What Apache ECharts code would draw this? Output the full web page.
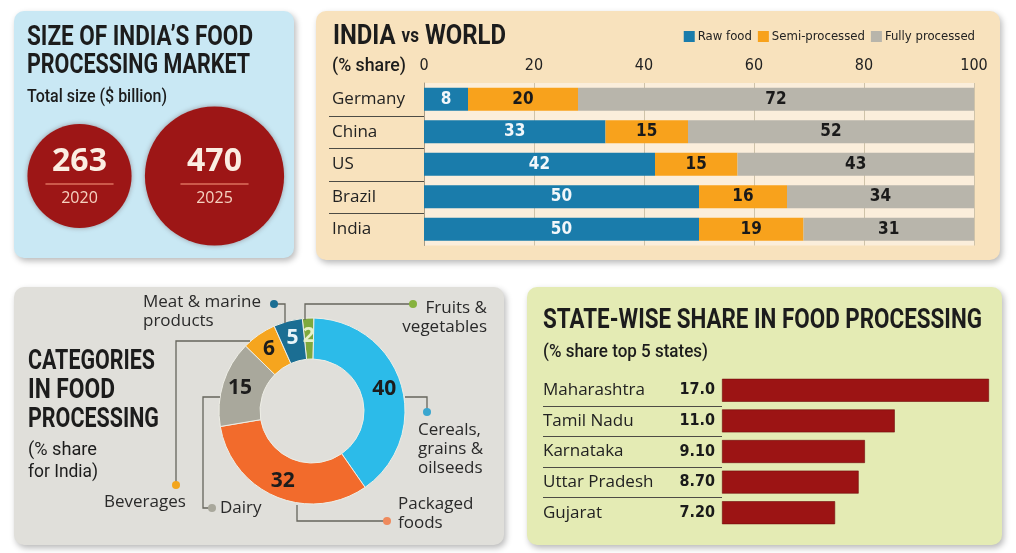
<!DOCTYPE html>
<html>
<head>
<meta charset="utf-8">
<script src="https://cdn.jsdelivr.net/npm/echarts@6/dist/echarts.min.js"></script>
<style>
html,body{margin:0;padding:0;background:#ffffff;}
#chart{width:1016px;height:553px;}
</style>
</head>
<body>
<div id="chart"></div>
<script>
// ---------- DATA ----------
const marketYears = ['2020', '2025'];
const marketSize = [263, 470];

const countries = ['Germany', 'China', 'US', 'Brazil', 'India'];
const rawFood = [8, 33, 42, 50, 50];
const semiProcessed = [20, 15, 15, 16, 19];
const fullyProcessed = [72, 52, 43, 34, 31];
const shareSeriesNames = ['Raw food', 'Semi-processed', 'Fully processed'];

const categoryNames = ['Fruits & vegetables', 'Cereals, grains & oilseeds', 'Packaged foods', 'Dairy', 'Beverages', 'Meat & marine products'];
const categoryLabels = ['Fruits &\nvegetables', 'Cereals,\ngrains &\noilseeds', 'Packaged\nfoods', 'Dairy', 'Beverages', 'Meat & marine\nproducts'];
const categoryShares = [2, 40, 32, 15, 6, 5];

const states = ['Maharashtra', 'Tamil Nadu', 'Karnataka', 'Uttar Pradesh', 'Gujarat'];
const stateShares = [17.0, 11.0, 9.10, 8.70, 7.20];
const stateShareLabels = ['17.0', '11.0', '9.10', '8.70', '7.20'];

// ---------- STYLE ----------
const COND = '"DejaVu Sans Condensed", "DejaVu Sans", sans-serif';
const ROBO = 'Roboto, "Liberation Sans", sans-serif';
const SANS = '"Open Sans", "Noto Sans", sans-serif';
const INK = '#1c1c1c';
const donutColors = ['#7ea93d', '#2cbbe9', '#f26b2c', '#a9a89c', '#f6a51e', '#1b6e93'];
const donutLabelColors = ['#e6f0c8', INK, INK, INK, INK, '#e8f4f8'];
const dotColors = ['#86b23e', '#3aa6cf', '#ef8a5c', '#a9a89c', '#f3a51c', '#1b6e93'];

const chart = echarts.init(document.getElementById('chart'), null, {renderer: 'canvas'});

const mctx = document.createElement('canvas').getContext('2d');
function measure(parts) {
  let w = 0;
  parts.forEach(([t, f]) => { mctx.font = f; w += mctx.measureText(t).width; });
  return w;
}
function panel(x, y, w, h, fill) {
  return {type: 'rect', z: -10, shape: {x, y, width: w, height: h, r: 10},
    style: {fill, shadowBlur: 6, shadowColor: 'rgba(0,0,0,0.28)', shadowOffsetX: 2, shadowOffsetY: 3}};
}
function txt(x, y, text, font, opts) {
  return Object.assign({type: 'text', z: 5, x, y},
    {style: Object.assign({text, font, fill: INK, textAlign: 'left', textVerticalAlign: 'middle'}, opts || {})});
}
// text squeezed horizontally to a given width (condensed look)
function fit(x, y, text, font, width) {
  const el = txt(x, y, text, font);
  el.scaleX = width / measure([[text, font]]);
  return el;
}
const TITLE = 'bold 28px ' + ROBO;
const TITLE2 = 'bold 27px ' + ROBO;
const SUB = '500 18px ' + ROBO;
const LBL = '17px ' + SANS;

// leader lines for donut (annotation layout)
const leaderPts = [
  [[413, 304], [305, 304], [305, 320]],
  [[427, 412], [427, 397], [405, 397]],
  [[387, 521], [297, 521], [297, 505]],
  [[212, 508], [203, 508], [203, 397], [220, 397]],
  [[176, 485], [176, 341], [250, 341]],
  [[274, 304], [285, 304], [285, 323]]
];
const leaderText = [
  {x: 487, y: 318, align: 'right'},
  {x: 418, y: 449, align: 'left'},
  {x: 398, y: 514, align: 'left'},
  {x: 220, y: 508, align: 'left'},
  {x: 104, y: 502, align: 'left'},
  {x: 143, y: 312, align: 'left'}
];
const leaderGraphics = [];
categoryNames.forEach((n, i) => {
  leaderGraphics.push({type: 'polyline', z: 3, shape: {points: leaderPts[i]}, style: {stroke: '#66655c', lineWidth: 1.3, fill: null}});
  leaderGraphics.push({type: 'circle', z: 4, shape: {cx: leaderPts[i][0][0], cy: leaderPts[i][0][1], r: 4}, style: {fill: dotColors[i]}});
  leaderGraphics.push(txt(leaderText[i].x, leaderText[i].y, categoryLabels[i], LBL, {textAlign: leaderText[i].align, lineHeight: 19, fill: '#2a2a2a'}));
});

// "INDIA vs WORLD" with small "vs"
const vsFontA = TITLE, vsFontB = 'bold 20px ' + ROBO;
const vsTitle = {type: 'text', z: 5, x: 333, y: 37,
  style: {text: '{a|INDIA }{b|vs}{a| WORLD}', textVerticalAlign: 'middle',
    rich: {a: {font: vsFontA, fill: INK}, b: {font: vsFontB, fill: INK}}}};
vsTitle.scaleX = 173 / measure([['INDIA ', vsFontA], ['vs', vsFontB], [' WORLD', vsFontA]]);

const staticGraphics = [
  panel(14, 11, 280, 247, '#c9e8f4'),
  panel(316, 11, 684, 249, '#f8e2bd'),
  panel(14, 287, 490, 258, '#e0dfda'),
  panel(527, 287, 475, 258, '#e4ebb4'),
  fit(27, 38, "SIZE OF INDIA\u2019S FOOD", TITLE, 226),
  fit(27, 66, 'PROCESSING MARKET', TITLE, 223),
  fit(27, 97, 'Total size ($ billion)', SUB, 140),
  vsTitle,
  fit(332, 66, '(% share)', SUB, 74),
  fit(28, 362, 'CATEGORIES', TITLE2, 127),
  fit(28, 391, 'IN FOOD', TITLE2, 87),
  fit(28, 420, 'PROCESSING', TITLE2, 131),
  fit(28, 450, '(% share', '18px ' + ROBO, 69),
  fit(28, 472, 'for India)', '18px ' + ROBO, 70),
  fit(543, 321, 'STATE-WISE SHARE IN FOOD PROCESSING', TITLE2, 439),
  fit(543, 352, '(% share top 5 states)', SUB, 165)
].concat(leaderGraphics);

const option = {
  animation: false,
  backgroundColor: '#ffffff',
  legend: {
    data: shareSeriesNames, right: 41, top: 30, itemWidth: 11, itemHeight: 11, itemGap: 6, padding: 0,
    icon: 'rect', textStyle: {fontFamily: COND, fontSize: 13, color: '#222', padding: [0, 0, 0, -2]}
  },
  grid: [
    {left: 12, width: 270, top: 126, height: 100},
    {left: 424, width: 550, top: 83, height: 162.5, show: true, backgroundColor: '#fbeedb', borderWidth: 0},
    {left: 722, width: 267, top: 375, height: 153}
  ],
  xAxis: [
    {gridIndex: 0, type: 'category', data: marketYears, show: false},
    {gridIndex: 1, type: 'value', position: 'top', min: 0, max: 100, interval: 20,
      axisLine: {show: false}, axisTick: {show: false},
      splitLine: {show: true, lineStyle: {color: '#cfc3a9', width: 1}},
      axisLabel: {fontFamily: COND, fontSize: 16, color: '#222', margin: 9}},
    {gridIndex: 2, type: 'value', min: 0, max: 17, show: false}
  ],
  yAxis: [
    {gridIndex: 0, type: 'value', min: -1, max: 1, show: false},
    {gridIndex: 1, type: 'category', data: countries, inverse: true,
      axisLine: {show: true, lineStyle: {color: '#a59b86', width: 1}}, axisTick: {show: false},
      axisLabel: {fontFamily: SANS, fontSize: 17, color: '#222', align: 'left', margin: 92}},
    {gridIndex: 2, type: 'category', data: states, inverse: true,
      axisLine: {show: false}, axisTick: {show: false},
      axisLabel: {fontFamily: SANS, fontSize: 17, color: '#222', align: 'left', margin: 179}}
  ],
  series: [
    {
      type: 'scatter', xAxisIndex: 0, yAxisIndex: 0,
      data: marketSize.map((v, i) => [i, 0]),
      symbolSize: (val, p) => 6.42 * Math.sqrt(marketSize[p.dataIndex]),
      itemStyle: {color: '#9d1616', opacity: 1, shadowBlur: 5, shadowColor: 'rgba(60,0,0,0.35)'},
      label: {
        show: true, position: 'inside',
        formatter: p => '{v|' + marketSize[p.dataIndex] + '}\n{l|}\n{y|' + marketYears[p.dataIndex] + '}',
        rich: {
          v: {fontFamily: SANS, fontWeight: 'bold', fontSize: 32, color: '#fbeee2', lineHeight: 44, align: 'center'},
          l: {width: 68, height: 0, borderColor: '#e9826b', borderWidth: 0.8, align: 'center'},
          y: {fontFamily: SANS, fontSize: 16, color: '#f6d2c0', lineHeight: 28, align: 'center'}
        }
      }
    },
    ...[rawFood, semiProcessed, fullyProcessed].map((arr, k) => ({
      name: shareSeriesNames[k], type: 'bar', stack: 'share', xAxisIndex: 1, yAxisIndex: 1,
      data: arr, barWidth: 23,
      itemStyle: {color: ['#1a7cab', '#f8a21c', '#b8b5ab'][k]},
      label: {show: true, position: 'inside', fontFamily: COND, fontWeight: 'bold', fontSize: 17,
        color: k === 0 ? '#f2f7fa' : '#1a1a1a'}
    })),
    {
      type: 'pie', center: [312, 411], radius: [52, 93], startAngle: 96, clockwise: true,
      data: categoryShares.map((v, i) => ({value: v, name: categoryNames[i],
        itemStyle: {color: donutColors[i]}, label: {color: donutLabelColors[i]}})),
      itemStyle: {borderColor: '#eeeee6', borderWidth: 1},
      label: {show: true, position: 'inside', formatter: '{c}', fontFamily: SANS, fontWeight: 'bold', fontSize: 21},
      labelLine: {show: false}, emphasis: {disabled: true}
    },
    {
      type: 'bar', xAxisIndex: 2, yAxisIndex: 2, data: stateShares, barWidth: 23,
      itemStyle: {color: '#9c1414', borderColor: '#6f0c0c', borderWidth: 0.6},
      label: {show: true, position: 'left', distance: 7, formatter: p => stateShareLabels[p.dataIndex],
        fontFamily: COND, fontWeight: 'bold', fontSize: 16, color: '#1a1a1a'}
    }
  ],
  graphic: {elements: staticGraphics}
};
chart.setOption(option);

// row separators computed from the category axes
const seps = [];
function addSeps(axisIdx, n, x1, x2) {
  for (let i = 0; i < n - 1; i++) {
    const a = chart.convertToPixel({yAxisIndex: axisIdx}, i);
    const b = chart.convertToPixel({yAxisIndex: axisIdx}, i + 1);
    const y = Math.round((a + b) / 2) + 0.5;
    seps.push({type: 'line', z: 3, shape: {x1, y1: y, x2, y2: y}, style: {stroke: '#4d4b45', lineWidth: 1.2}});
  }
}
addSeps(1, countries.length, 329, 424);
addSeps(2, states.length, 543, 722);
chart.setOption({graphic: {elements: staticGraphics.concat(seps)}});
</script>
</body>
</html>
